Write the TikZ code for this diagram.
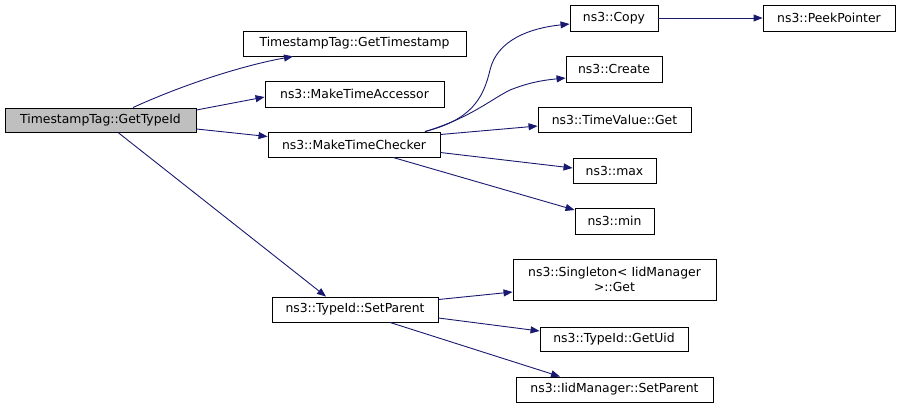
\documentclass[tikz,border=0pt]{standalone}
\usepackage{fontspec}
\setmainfont{DejaVu Sans}
\usetikzlibrary{arrows.meta}

\definecolor{edgeblue}{HTML}{191970}
\definecolor{rootgray}{HTML}{BFBFBF}

\tikzset{
    fn/.style={draw, line width=0.9pt, minimum width=#1, minimum height=25pt,
        inner sep=0pt, font=\fontsize{12.4}{14.5}\selectfont},
    call/.style={draw=edgeblue, line width=0.9pt,
        -{Triangle[length=9pt, width=7pt]}}
}

\begin{document}
\begin{tikzpicture}[x=1pt, y=-1pt]
    \useasboundingbox (0,0) rectangle (900,408);

    % Root function
    \node[fn=191pt, fill=rootgray, minimum height=24pt] (typeid) at (100.5,120) {TimestampTag::GetTypeId};

    % First level calls
    \node[fn=223pt] (stamp) at (354.5,43.5) {TimestampTag::GetTimestamp};
    \node[fn=179pt, minimum height=26pt] (accessor) at (354.5,94) {ns3::MakeTimeAccessor};
    \node[fn=172pt] (checker) at (354,144.5) {ns3::MakeTimeChecker};
    \node[fn=166pt] (setparent) at (355,309.5) {ns3::TypeId::SetParent};

    % Calls of MakeTimeChecker
    \node[fn=88pt, minimum height=26pt] (copy) at (614,18) {ns3::Copy};
    \node[fn=132pt, minimum height=26pt] (peek) at (829,18) {ns3::PeekPointer};
    \node[fn=96pt, minimum height=26pt] (create) at (614,69) {ns3::Create};
    \node[fn=153pt] (tvget) at (614.5,120) {ns3::TimeValue::Get};
    \node[fn=83pt] (max) at (614.5,170.5) {ns3::max};
    \node[fn=79pt, minimum height=26pt] (min) at (614.5,221) {ns3::min};

    % Calls of TypeId::SetParent
    \node[fn=203pt, minimum height=41pt, align=center] (singleton) at (614.5,279.5) {ns3::Singleton\textless{} IidManager\\\textgreater::Get};
    \node[fn=148pt, minimum height=24pt] (getuid) at (614,339) {ns3::TypeId::GetUid};
    \node[fn=197pt] (iidparent) at (614.5,389.5) {ns3::IidManager::SetParent};

    % Arrows from the root
    \draw[call] ([xshift=32.5pt]typeid.north) .. controls (180,86) and (240,66) .. ([xshift=-61.5pt]stamp.south);
    \draw[call] ([yshift=10pt]typeid.east) -- ([yshift=-3pt]accessor.west);
    \draw[call] ([yshift=-9pt]typeid.east) -- ([yshift=8pt]checker.west);
    \draw[call] ([xshift=17.5pt]typeid.south) -- ([xshift=-29pt]setparent.north);

    % Arrows from MakeTimeChecker
    \draw[call] ([xshift=71pt]checker.north) .. controls (470,120) and (483,100) .. (490,70)
        .. controls (497,40) and (530,28) .. ([yshift=-6pt]copy.west);
    \draw[call] ([xshift=71pt]checker.north) .. controls (470,118) and (490,100) .. (510,90)
        .. controls (530,82) and (545,80) .. ([yshift=-9pt]create.west);
    \draw[call] ([yshift=10pt]checker.east) -- ([yshift=-6pt]tvget.west);
    \draw[call] ([yshift=-8pt]checker.east) -- ([yshift=2.5pt]max.west);
    \draw[call] ([xshift=39pt]checker.south) -- ([yshift=11pt]min.west);
    \draw[call] (copy) -- (peek);

    % Arrows from TypeId::SetParent
    \draw[call] ([yshift=10pt]setparent.east) -- ([yshift=-12.5pt]singleton.west);
    \draw[call] ([yshift=-8.5pt]setparent.east) -- ([yshift=8pt]getuid.west);
    \draw[call] ([xshift=35pt]setparent.south) -- ([xshift=-54.5pt]iidparent.north);
\end{tikzpicture}
\end{document}
